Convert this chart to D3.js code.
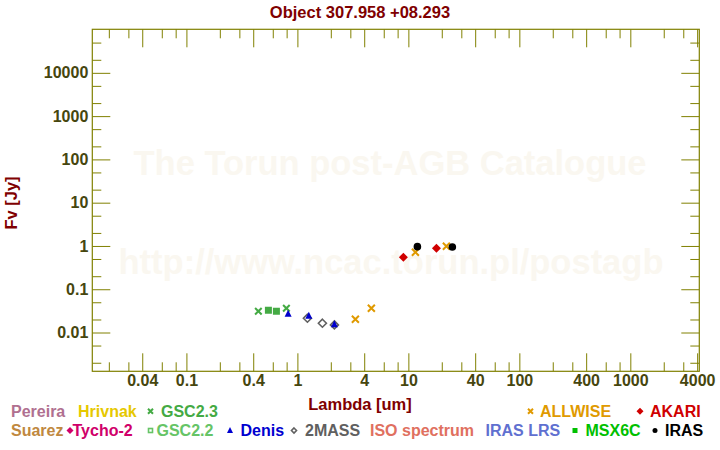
<!DOCTYPE html>
<html><head><meta charset="utf-8">
<script src="https://cdn.jsdelivr.net/npm/d3@7"></script>
<style>
html,body{margin:0;padding:0;background:#fff;}
svg{display:block;font-family:"Liberation Sans",Arial,Helvetica,sans-serif;font-weight:bold;}
</style></head><body>
<svg id="c" width="720" height="450"></svg>
<script>
// ---- data (wavelength in um, flux in Jy) ----
const gsc23 = [{w:0.445,f:0.0310},{w:0.796,f:0.0364}];
const gsc22 = [{w:0.548,f:0.0327},{w:0.647,f:0.0310}];
const denis = [{w:0.825,f:0.0273},{w:1.267,f:0.0245},{w:2.155,f:0.0155}];
const twomass = [{w:1.231,f:0.0214},{w:1.680,f:0.0164},{w:2.155,f:0.0150}];
const allwise = [{w:3.33,f:0.0203},{w:4.64,f:0.0364},{w:11.57,f:0.715},{w:22.0,f:0.984}];
const akari = [{w:9.02,f:0.548},{w:17.9,f:0.885}];
const iras = [{w:12.06,f:0.963},{w:24.9,f:0.948}];

const xMajor = [0.04,0.1,0.4,1,4,10,40,100,400,1000,4000];
const xMinor = [0.02,0.03,0.06,0.08,0.2,0.3,0.6,0.8,2,3,6,8,20,30,60,80,200,300,600,800,2000,3000];
const yMajor = [0.01,0.1,1,10,100,1000,10000];
const yMinor = [0.002,0.005,0.02,0.05,0.2,0.5,2,5,20,50,200,500,2000,5000,20000,50000];
const yLabels = ["0.01","0.1","1","10","100","1000","10000"];
const xLabels = ["0.04","0.1","0.4","1","4","10","40","100","400","1000","4000"];

const legendRow1 = [
  {t:"Pereira",c:"#b07090",x:11,m:null},
  {t:"Hrivnak",c:"#e6c800",x:78,m:null},
  {t:"GSC2.3",c:"#44aa44",x:161,m:"x",mx:150.5},
  {t:"ALLWISE",c:"#e09a00",x:540,m:"x",mx:530.5},
  {t:"AKARI",c:"#d00000",x:650,m:"diamondF",mx:640}
];
const legendRow2 = [
  {t:"Suarez",c:"#c08840",x:11,m:null},
  {t:"Tycho-2",c:"#d0006a",x:72.5,m:"diamondF",mx:70},
  {t:"GSC2.2",c:"#66c466",x:156.5,m:"squareO",mx:150.5},
  {t:"Denis",c:"#0000d0",x:240.5,m:"tri",mx:230},
  {t:"2MASS",c:"#606060",x:305,m:"diamondO",mx:294},
  {t:"ISO spectrum",c:"#e07060",x:370,m:null},
  {t:"IRAS LRS",c:"#6070d0",x:485.5,m:null},
  {t:"MSX6C",c:"#00c000",x:585.5,m:"squareF",mx:575},
  {t:"IRAS",c:"#000000",x:665,m:"circle",mx:655}
];

// ---- layout ----
const L=92.3, R=699.3, T=29.3, B=371.3;
const svg = d3.select("#c");
const x = d3.scaleLog().domain([0.01419,4183]).range([L,R]);
const y = d3.scaleLog().domain([0.00127,1.014e5]).range([B,T]);
const olive="#808000", lab="#46460e", dred="#800000";

// watermark
svg.append("text").attr("x",390).attr("y",175).attr("text-anchor","middle")
  .attr("font-size",34.5).attr("fill","#faf7f0").text("The Torun post-AGB Catalogue");
svg.append("text").attr("x",391).attr("y",274).attr("text-anchor","middle")
  .attr("font-size",34.5).attr("fill","#faf7f0").text("http://www.ncac.torun.pl/postagb");

// axes
function styleAxis(g){g.select(".domain").remove();g.selectAll("line").attr("stroke",olive);
  g.selectAll("text").attr("fill",lab).attr("font-size",16).attr("font-family","Liberation Sans, Arial, sans-serif").attr("font-weight","bold");}
const fmtX = d=>xLabels[xMajor.indexOf(d)];
const fmtY = d=>yLabels[yMajor.indexOf(d)];
svg.append("g").attr("transform",`translate(0,${B})`).call(d3.axisBottom(x).tickValues(xMajor).tickFormat(fmtX).tickSizeInner(-18).tickSizeOuter(0).tickPadding(3)).call(styleAxis);
svg.append("g").attr("transform",`translate(0,${B})`).call(d3.axisBottom(x).tickValues(xMinor).tickFormat("").tickSizeInner(-9).tickSizeOuter(0)).call(styleAxis);
svg.append("g").attr("transform",`translate(0,${T})`).call(d3.axisTop(x).tickValues(xMajor).tickFormat("").tickSizeInner(-18).tickSizeOuter(0)).call(styleAxis);
svg.append("g").attr("transform",`translate(0,${T})`).call(d3.axisTop(x).tickValues(xMinor).tickFormat("").tickSizeInner(-9).tickSizeOuter(0)).call(styleAxis);
svg.append("g").attr("transform",`translate(${L},0)`).call(d3.axisLeft(y).tickValues(yMajor).tickFormat(fmtY).tickSizeInner(-18).tickSizeOuter(0).tickPadding(4)).call(styleAxis);
svg.append("g").attr("transform",`translate(${L},0)`).call(d3.axisLeft(y).tickValues(yMinor).tickFormat("").tickSizeInner(-9).tickSizeOuter(0)).call(styleAxis);
svg.append("g").attr("transform",`translate(${R},0)`).call(d3.axisRight(y).tickValues(yMajor).tickFormat("").tickSizeInner(-18).tickSizeOuter(0)).call(styleAxis);
svg.append("g").attr("transform",`translate(${R},0)`).call(d3.axisRight(y).tickValues(yMinor).tickFormat("").tickSizeInner(-9).tickSizeOuter(0)).call(styleAxis);
svg.append("rect").attr("x",L).attr("y",T).attr("width",R-L).attr("height",B-T).attr("fill","none").attr("stroke",olive).attr("stroke-width",1.2);

// titles
svg.append("text").attr("x",360).attr("y",17.5).attr("text-anchor","middle").attr("font-size",16.5).attr("fill",dred).text("Object 307.958 +08.293");
svg.append("text").attr("x",360).attr("y",410).attr("text-anchor","middle").attr("font-size",16.5).attr("fill",dred).text("Lambda [um]");
svg.append("text").attr("transform","translate(17,203) rotate(-90)").attr("text-anchor","middle").attr("font-size",16.5).attr("fill",dred).text("Fv [Jy]");

// marker drawing
function marker(g,type,cx,cy,col,s){
  if(type==="x"){g.append("path").attr("d",`M${cx-s},${cy-s}L${cx+s},${cy+s}M${cx+s},${cy-s}L${cx-s},${cy+s}`).attr("stroke",col).attr("stroke-width",2).attr("fill","none");}
  else if(type==="diamondF"){g.append("path").attr("d",`M${cx},${cy-s-1}L${cx+s+1},${cy}L${cx},${cy+s+1}L${cx-s-1},${cy}Z`).attr("fill",col);}
  else if(type==="diamondO"){g.append("path").attr("d",`M${cx},${cy-s}L${cx+s},${cy}L${cx},${cy+s}L${cx-s},${cy}Z`).attr("fill","none").attr("stroke",col).attr("stroke-width",1.6);}
  else if(type==="squareO"){g.append("rect").attr("x",cx-s+0.5).attr("y",cy-s+0.5).attr("width",2*s-1).attr("height",2*s-1).attr("fill","none").attr("stroke",col).attr("stroke-width",1.6);}
  else if(type==="squareF"){g.append("rect").attr("x",cx-s).attr("y",cy-s).attr("width",2*s).attr("height",2*s).attr("fill",col);}
  else if(type==="tri"){g.append("path").attr("d",`M${cx},${cy-s-1}L${cx+s+0.5},${cy+s}L${cx-s-0.5},${cy+s}Z`).attr("fill",col);}
  else if(type==="circle"){g.append("circle").attr("cx",cx).attr("cy",cy).attr("r",s).attr("fill",col);}
}

// data
const pg = svg.append("g");
const series = [
  {d:gsc23,t:"x",c:"#44aa44",s:3.3},
  {d:gsc22,t:"squareF",c:"#44aa44",s:3.5},
  {d:twomass,t:"diamondO",c:"#606060",s:4},
  {d:denis,t:"tri",c:"#0000cc",s:3},
  {d:allwise,t:"x",c:"#e09a00",s:3.5},
  {d:akari,t:"diamondF",c:"#d00000",s:3.5},
  {d:iras,t:"circle",c:"#000000",s:3.8}
];
series.forEach(se=>se.d.forEach(p=>marker(pg,se.t,x(p.w),y(p.f),se.c,se.s)));

// legend
const lg = svg.append("g");
function legendRow(items,base){
  items.forEach(it=>{
    lg.append("text").attr("x",it.x).attr("y",base).attr("font-size",16).attr("fill",it.c).text(it.t);
    if(it.m) marker(lg,it.m,it.mx,base-5.5,it.c,2.5);
  });
}
legendRow(legendRow1,416.7);
legendRow(legendRow2,436);
</script></body></html>
